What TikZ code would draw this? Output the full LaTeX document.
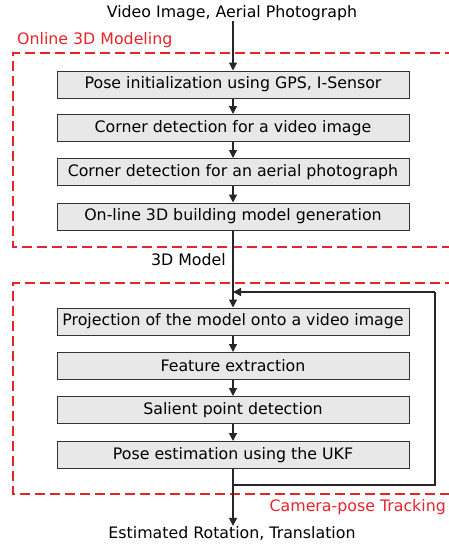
\documentclass[tikz,border=0pt]{standalone}
\usepackage{fontspec}
\setmainfont{DejaVu Sans}
\usetikzlibrary{arrows.meta}
\definecolor{boxfill}{HTML}{E8E8E8}
\definecolor{boxline}{HTML}{333333}
\definecolor{grpred}{HTML}{E8242B}
\tikzset{
  txt/.style={font=\fontsize{15.8}{18}\selectfont},
  stagebox/.style={txt, draw=boxline, line width=1pt, fill=boxfill,
    minimum width=352pt, minimum height=27pt, inner sep=0pt},
  flow/.style={draw=black!85, line width=1.2pt,
    -{Triangle[width=8pt,length=8pt]}},
  plain/.style={draw=black!85, line width=1.2pt},
  grpframe/.style={draw=grpred, line width=1.4pt, dash pattern=on 10pt off 5pt},
  grplabel/.style={txt, text=grpred, inner sep=0pt},
  iotext/.style={txt, inner sep=0pt}
}
\begin{document}
\begin{tikzpicture}[x=1pt,y=-1pt]
  \useasboundingbox (0,0) rectangle (449,544);
  \clip (0,0) rectangle (449,544);

  % group frames (open on the right, running off the page)
  \draw[grpframe] (455,53) -- (13,53) -- (13,247) -- (455,247);
  \draw[grpframe] (455,283) -- (13,283) -- (13,494) -- (455,494);
  \node[grplabel, anchor=west] (lblmodel) at (17,40) {Online 3D Modeling};
  \node[grplabel, anchor=east] (lbltrack) at (446,507) {Camera-pose Tracking};

  % input and output
  \node[iotext] (in) at (232,13) {Video Image, Aerial Photograph};
  \node[iotext] (out) at (232,533) {Estimated Rotation, Translation};

  % online modeling stages
  \node[stagebox] (b1) at (233,84.5) {Pose initialization using GPS, I-Sensor};
  \node[stagebox] (b2) at (233,128) {Corner detection for a video image};
  \node[stagebox] (b3) at (233,172) {Corner detection for an aerial photograph};
  \node[stagebox] (b4) at (233,216.5) {On-line 3D building model generation};

  % tracking stages
  \node[stagebox] (b5) at (233,321.5) {Projection of the model onto a video image};
  \node[stagebox] (b6) at (233,366) {Feature extraction};
  \node[stagebox] (b7) at (233,410) {Salient point detection};
  \node[stagebox] (b8) at (233,455) {Pose estimation using the UKF};

  \node[iotext, anchor=east] (mdl) at (226,260) {3D Model};

  % main flow
  \draw[flow] (in.south -| b1.north) -- (b1);
  \draw[flow] (b1) -- (b2);
  \draw[flow] (b2) -- (b3);
  \draw[flow] (b3) -- (b4);
  \draw[flow] (b4) -- (b5);
  \draw[flow] (b5) -- (b6);
  \draw[flow] (b6) -- (b7);
  \draw[flow] (b7) -- (b8);
  \draw[flow] (b8) -- (b8.south |- out.north);

  % feedback loop
  \coordinate (fbjoin) at (233,292);
  \coordinate (fbdown) at (233,485);
  \coordinate (fbright) at (435,485);
  \coordinate (fbtop) at (435,292);
  \draw[plain] (fbdown) -- (fbright) -- (fbtop);
  \draw[flow] (fbtop) -- (fbjoin);
\end{tikzpicture}
\end{document}
